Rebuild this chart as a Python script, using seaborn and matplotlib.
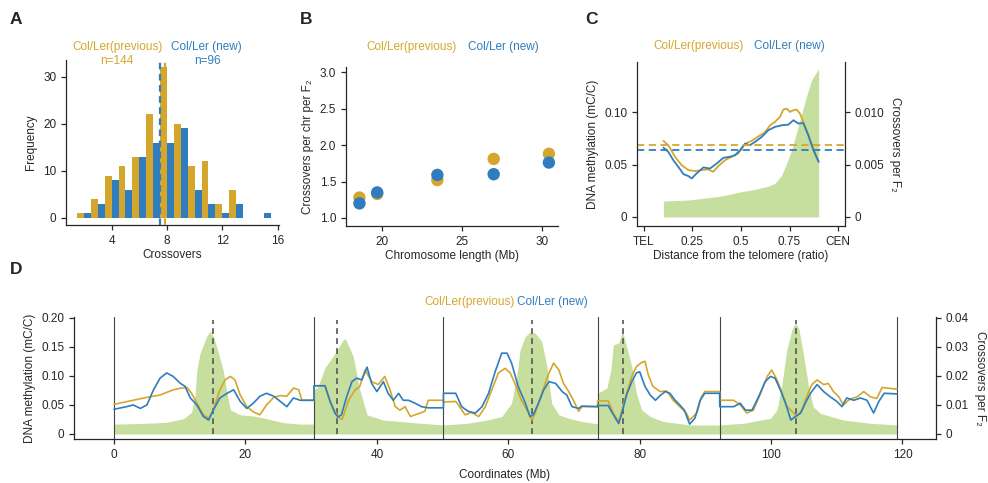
import numpy as np
import pandas as pd
import matplotlib
matplotlib.use("Agg")
import matplotlib.pyplot as plt
import seaborn as sns

sns.set_style("ticks")
plt.rcParams['font.family'] = ['Liberation Sans', 'DejaVu Sans']
plt.rcParams['font.size'] = 8.5
plt.rcParams['axes.linewidth'] = 0.9
plt.rcParams['xtick.major.size'] = 3.5
plt.rcParams['ytick.major.size'] = 3.5
plt.rcParams['xtick.major.width'] = 0.9
plt.rcParams['ytick.major.width'] = 0.9
plt.rcParams['xtick.labelsize'] = 8.5
plt.rcParams['ytick.labelsize'] = 8.5
plt.rcParams['axes.labelsize'] = 8.5

YEL = "#D4A72C"
BLU = "#2F7DBE"
GRN = "#C6DE9E"
LAB_PREV = "Col/Ler(previous)"
LAB_NEW = "Col/Ler (new)"

# ---------------- Panel A data ----------------
co_bins = list(range(2, 16))
prev_counts = [1, 4, 9, 11, 13, 22, 32, 20, 11, 12, 3, 6, 0, 0]
new_counts = [1, 3, 8, 6, 13, 16, 16, 19, 6, 3, 1, 3, 0, 1]

# ---------------- Panel B data ----------------
chr_len = [30.43, 19.70, 23.46, 18.59, 26.98]
prev_rate = [1.88, 1.33, 1.52, 1.28, 1.81]
new_rate = [1.76, 1.35, 1.59, 1.20, 1.60]

# ---------------- Panel C data ----------------
c_co_pos = [0.10, 0.229, 0.40, 0.50, 0.572, 0.641, 0.675, 0.71, 0.735, 0.761,
            0.787, 0.813, 0.839, 0.864, 0.90]
c_co = [0.00152, 0.00162, 0.0020, 0.00241, 0.00263, 0.00295, 0.00321, 0.0040,
        0.00511, 0.00638, 0.00813, 0.00987, 0.0116, 0.0131, 0.01416]
c_prev_pos = [0.10, 0.125, 0.16, 0.194, 0.229, 0.263, 0.297, 0.332, 0.357, 0.383,
              0.418, 0.452, 0.486, 0.521, 0.555, 0.59, 0.624, 0.65, 0.675, 0.701,
              0.718, 0.735, 0.753, 0.77, 0.787, 0.804, 0.821, 0.847, 0.873, 0.90]
c_prev = [0.0727, 0.0686, 0.0575, 0.0495, 0.0448, 0.0438, 0.0448, 0.0454, 0.0432,
          0.0486, 0.0543, 0.0575, 0.0606, 0.070, 0.0727, 0.077, 0.081, 0.0876,
          0.0908, 0.0956, 0.1026, 0.1035, 0.1003, 0.102, 0.1026, 0.0987, 0.0908,
          0.0781, 0.0654, 0.0527]
c_new_pos = [0.10, 0.125, 0.151, 0.177, 0.203, 0.229, 0.246, 0.271, 0.306, 0.34,
             0.375, 0.409, 0.443, 0.469, 0.495, 0.521, 0.546, 0.572, 0.607, 0.641,
             0.675, 0.71, 0.744, 0.77, 0.796, 0.821, 0.847, 0.873, 0.90]
c_new = [0.0663, 0.0622, 0.0543, 0.0479, 0.0410, 0.0390, 0.0368, 0.0416, 0.0473,
         0.0463, 0.0511, 0.0565, 0.0575, 0.0590, 0.0638, 0.070, 0.0686, 0.0717,
         0.0765, 0.0829, 0.086, 0.0876, 0.0882, 0.0924, 0.0892, 0.0898, 0.0781,
         0.0638, 0.0527]
c_prev_mean = 0.0686
c_new_mean = 0.0644
c_ticks = [0, 0.25, 0.5, 0.75, 1.0]
c_ticklabels = ["TEL", "0.25", "0.5", "0.75", "CEN"]

# ---------------- Panel D data (genome coordinates, Mb) ----------------
cen_pos = [15.0, 34.0, 63.6, 77.4, 103.8]

d_co_pos = [0, 4, 8, 10.6, 11.8, 12.3, 12.6, 13.1, 14.1, 14.6, 15.1, 15.6, 16.6, 17.2,
            17.7, 19.2, 21.2, 23.2, 25.8, 28.3, 30.43,
            30.43, 31.0, 32.1, 33.4, 34.9, 35.2, 36.4, 37.4, 38.5, 41.0, 46.1, 50.13,
            50.13, 53.9, 57.0, 59.0, 60.5, 61.3, 61.8, 62.6, 63.3, 64.1, 65.1, 65.9,
            66.6, 67.7, 69.2, 71.2, 73.59,
            73.59, 75.0, 75.6, 76.0, 76.8, 77.4, 78.0, 78.8, 79.5, 80.3, 81.6, 83.6,
            87.7, 92.18,
            92.18, 95.8, 99.9, 100.9, 101.6, 102.4, 103.2, 103.7, 104.2, 104.9, 105.7,
            106.4, 107.5, 111.0, 115.1, 119.16]
d_co = [0.0034, 0.0036, 0.0040, 0.0053, 0.0075, 0.013, 0.022, 0.0278, 0.0336, 0.0353,
        0.0336, 0.030, 0.022, 0.014, 0.0083, 0.0066, 0.0062, 0.0053, 0.0039, 0.0034, 0.0034,
        0.0152, 0.016, 0.0228, 0.027, 0.0324, 0.0328, 0.0267, 0.0152, 0.0066, 0.0048,
        0.0038, 0.0031,
        0.0031, 0.0037, 0.0049, 0.0060, 0.0106, 0.020, 0.029, 0.0336, 0.035, 0.0347,
        0.0318, 0.023, 0.0106, 0.0066, 0.0054, 0.0043, 0.0035,
        0.014, 0.0158, 0.022, 0.0307, 0.0313, 0.0353, 0.0301, 0.0232, 0.014, 0.0083,
        0.006, 0.0043, 0.0031, 0.0031,
        0.0031, 0.0037, 0.0054, 0.0083, 0.0163, 0.029, 0.036, 0.0382, 0.0364, 0.0278,
        0.0163, 0.0094, 0.0071, 0.0048, 0.0037, 0.0031]

d_prev_pos = [0, 1.9, 2.9, 5.0, 7.0, 9.0, 10.1, 11.1, 11.8, 12.6, 13.6, 14.4, 15.1, 16.1,
              16.9, 17.7, 18.4, 19.2, 20.2, 21.2, 22.2, 23.2, 24.3, 25.3, 26.3, 27.3,
              28.1, 28.6, 30.43,
              30.43, 32.1, 32.9, 33.6, 34.4, 34.7, 35.7, 36.7, 37.4, 38.2, 39.2, 40.2,
              41.2, 42.0, 42.8, 43.5, 44.3, 45.1, 45.8, 46.6, 47.3, 47.8, 50.13,
              50.13, 52.0, 52.4, 53.4, 54.4, 55.5, 56.5, 57.5, 58.5, 59.5, 60.3, 61.0,
              62.0, 63.1, 63.6, 64.1, 65.1, 66.2, 66.9, 67.7, 68.4, 69.2, 70.0, 70.7,
              71.2, 73.59,
              73.59, 75.2, 76.0, 76.8, 77.3, 78.0, 78.8, 79.5, 80.3, 80.8, 81.3, 82.0,
              83.1, 84.1, 85.1, 86.1, 87.1, 87.6, 88.7, 89.4, 89.9, 92.18,
              92.18, 94.3, 95.3, 96.3, 97.3, 98.3, 99.4, 100.1, 100.9, 101.6, 102.4,
              103.2, 103.9, 104.7, 105.4, 106.2, 107.0, 108.0, 108.7, 109.5, 110.3,
              111.0, 112.0, 113.1, 114.1, 115.1, 116.1, 116.9, 119.16]
d_prev = [0.051, 0.0557, 0.058, 0.063, 0.067, 0.0759, 0.0787, 0.080, 0.070, 0.053, 0.033,
          0.027, 0.041, 0.076, 0.093, 0.099, 0.093, 0.067, 0.047, 0.038, 0.033, 0.050,
          0.063, 0.066, 0.065, 0.079, 0.076, 0.058, 0.058,
          0.0828, 0.0828, 0.054, 0.039, 0.027, 0.025, 0.058, 0.076, 0.082, 0.110, 0.090,
          0.085, 0.099, 0.076, 0.047, 0.041, 0.047, 0.030, 0.033, 0.036, 0.039, 0.058,
          0.058,
          0.055, 0.056, 0.050, 0.033, 0.037, 0.030, 0.047, 0.076, 0.105, 0.113, 0.105,
          0.087, 0.058, 0.036, 0.024, 0.036, 0.070, 0.105, 0.122, 0.110, 0.087, 0.073,
          0.056, 0.039, 0.047, 0.047,
          0.057, 0.057, 0.036, 0.021, 0.041, 0.070, 0.099, 0.116, 0.123, 0.125, 0.102,
          0.082, 0.073, 0.074, 0.058, 0.047, 0.036, 0.024, 0.036, 0.064, 0.073, 0.073,
          0.058, 0.058, 0.050, 0.036, 0.041, 0.067, 0.099, 0.110, 0.093, 0.073, 0.047,
          0.039, 0.030, 0.041, 0.064, 0.085, 0.093, 0.085, 0.087, 0.073, 0.064, 0.050,
          0.060, 0.064, 0.073, 0.064, 0.061, 0.080, 0.077]

d_new_pos = [0, 1.9, 2.9, 4.0, 5.0, 6.0, 7.0, 8.0, 9.0, 10.1, 10.8, 11.6, 12.6, 13.6,
             14.4, 15.1, 16.1, 17.2, 18.2, 19.2, 20.2, 21.2, 22.2, 23.2, 24.3, 25.3,
             26.3, 27.3, 28.3, 30.43,
             30.43, 32.1, 32.9, 33.6, 34.1, 34.6, 35.4, 36.2, 36.9, 37.7, 38.5, 39.2,
             40.0, 41.0, 41.7, 42.5, 43.3, 44.0, 44.8, 45.8, 46.8, 47.8, 50.13,
             50.13, 52.0, 52.9, 53.9, 55.0, 56.0, 57.0, 58.0, 59.0, 59.8, 60.5, 61.5,
             62.6, 63.3, 63.8, 64.6, 65.4, 66.2, 67.2, 68.2, 68.9, 69.7, 70.7, 71.2, 73.59,
             73.59, 75.2, 76.0, 76.8, 77.3, 78.0, 78.8, 79.5, 80.0, 80.8, 81.6, 82.4,
             83.1, 83.9, 84.6, 85.4, 86.1, 86.8, 87.6, 88.4, 89.2, 89.9, 92.18,
             92.18, 94.3, 95.3, 96.1, 97.1, 98.1, 99.1, 99.9, 100.6, 101.4, 102.2, 103.0,
             103.7, 104.5, 105.2, 106.0, 107.0, 108.0, 109.0, 110.0, 110.8, 111.5, 112.6,
             113.6, 114.6, 115.6, 116.4, 117.2, 119.16]
d_new = [0.0425, 0.047, 0.050, 0.044, 0.050, 0.076, 0.096, 0.105, 0.099, 0.087, 0.082,
         0.062, 0.050, 0.030, 0.024, 0.041, 0.062, 0.070, 0.076, 0.056, 0.044, 0.053,
         0.065, 0.070, 0.065, 0.056, 0.047, 0.062, 0.058, 0.058,
         0.083, 0.083, 0.056, 0.036, 0.029, 0.033, 0.064, 0.090, 0.096, 0.093, 0.115,
         0.087, 0.073, 0.090, 0.070, 0.058, 0.070, 0.058, 0.058, 0.053, 0.047, 0.045, 0.045,
         0.070, 0.070, 0.047, 0.039, 0.036, 0.047, 0.070, 0.107, 0.139, 0.139, 0.122,
         0.082, 0.053, 0.030, 0.033, 0.053, 0.076, 0.090, 0.087, 0.073, 0.067, 0.047,
         0.044, 0.048, 0.047,
         0.049, 0.049, 0.033, 0.018, 0.036, 0.067, 0.090, 0.105, 0.107, 0.082, 0.067,
         0.058, 0.066, 0.073, 0.070, 0.058, 0.050, 0.041, 0.017, 0.027, 0.058, 0.070, 0.070,
         0.047, 0.047, 0.053, 0.041, 0.041, 0.064, 0.090, 0.099, 0.096, 0.076, 0.053,
         0.024, 0.030, 0.036, 0.053, 0.070, 0.085, 0.073, 0.064, 0.056, 0.047, 0.062,
         0.058, 0.062, 0.058, 0.036, 0.056, 0.070, 0.069]

# ---------------- Figure ----------------
W, H = 988, 483
fig = plt.figure(figsize=(W / 100, H / 100), dpi=100)

def ax_px(l, t, r, b):
    return fig.add_axes([l / W, 1 - b / H, (r - l) / W, (b - t) / H])

def fx(x):
    return x / W

def fy(y):
    return 1 - y / H

palette = {LAB_PREV: YEL, LAB_NEW: BLU}

# ---- Panel A ----
axA = ax_px(66, 60, 279, 225)
dfA = pd.DataFrame({
    "crossovers": co_bins * 2,
    "count": prev_counts + new_counts,
    "set": [LAB_PREV] * len(co_bins) + [LAB_NEW] * len(co_bins),
})
sns.histplot(data=dfA, x="crossovers", weights="count", hue="set",
             hue_order=[LAB_PREV, LAB_NEW], palette=palette, discrete=True,
             multiple="dodge", shrink=1, alpha=1, linewidth=0, legend=False, ax=axA)
mean_prev = np.average(co_bins, weights=prev_counts)
mean_new = np.average(co_bins, weights=new_counts)
axA.axvline(mean_new, color=BLU, lw=1.6, dashes=(3, 2), zorder=3)
axA.axvline(mean_prev, color=YEL, lw=1.6, dashes=(3, 2), zorder=3)
axA.set_xlim(0.7, 16.1)
axA.set_ylim(-1.5, 33.5)
axA.set_xticks([4, 8, 12, 16])
axA.set_yticks([0, 10, 20, 30])
axA.set_xlabel("Crossovers", labelpad=2)
axA.set_ylabel("Frequency", labelpad=4)
sns.despine(ax=axA)
fig.text(fx(118), fy(47), LAB_PREV, color=YEL, ha="center", va="center", fontsize=8.5)
fig.text(fx(117), fy(61), "n=144", color=YEL, ha="center", va="center", fontsize=8.5)
fig.text(fx(206), fy(47), LAB_NEW, color=BLU, ha="center", va="center", fontsize=8.5)
fig.text(fx(207), fy(61), "n=96", color=BLU, ha="center", va="center", fontsize=8.5)

# ---- Panel B ----
axB = ax_px(346, 67, 558, 226)
dfB = pd.DataFrame({
    "length": chr_len * 2,
    "rate": prev_rate + new_rate,
    "set": [LAB_PREV] * len(chr_len) + [LAB_NEW] * len(chr_len),
})
sns.scatterplot(data=dfB, x="length", y="rate", hue="set",
                hue_order=[LAB_PREV, LAB_NEW], palette=palette, s=80,
                linewidth=0, legend=False, ax=axB)
axB.set_xlim(17.75, 31.0)
axB.set_ylim(0.89, 3.07)
axB.set_xticks([20, 25, 30])
axB.set_yticks([1.0, 1.5, 2.0, 2.5, 3.0])
axB.set_yticklabels(["1.0", "1.5", "2.0", "2.5", "3.0"])
axB.set_xlabel("Chromosome length (Mb)", labelpad=2)
axB.set_ylabel("Crossovers per chr per F\u2082", labelpad=4)
sns.despine(ax=axB)
fig.text(fx(412), fy(47), LAB_PREV, color=YEL, ha="center", va="center", fontsize=8.5)
fig.text(fx(503), fy(47), LAB_NEW, color=BLU, ha="center", va="center", fontsize=8.5)

# ---- Panel C ----
axC = ax_px(637, 62, 845, 226)
axC2 = axC.twinx()
axC2.fill_between(c_co_pos, 0, c_co, color=GRN, linewidth=0)
axC2.set_ylim(-0.00086, 0.0148)
axC2.set_yticks([0, 0.005, 0.010])
axC2.set_yticklabels(["0", "0.005", "0.010"])
axC2.set_ylabel("Crossovers per F\u2082", rotation=270, labelpad=12)
dfC = pd.DataFrame({
    "pos": c_prev_pos + c_new_pos,
    "meth": c_prev + c_new,
    "set": [LAB_PREV] * len(c_prev_pos) + [LAB_NEW] * len(c_new_pos),
})
sns.lineplot(data=dfC, x="pos", y="meth", hue="set", hue_order=[LAB_PREV, LAB_NEW],
             palette=palette, lw=1.3, estimator=None, sort=False, legend=False, ax=axC)
axC.axhline(c_prev_mean, color=YEL, lw=1.3, dashes=(4, 2.5))
axC.axhline(c_new_mean, color=BLU, lw=1.3, dashes=(4, 2.5))
axC.set_zorder(axC2.get_zorder() + 1)
axC.patch.set_visible(False)
axC.set_xlim(-0.036, 1.036)
axC.set_ylim(-0.0086, 0.148)
axC.set_yticks([0, 0.05, 0.10])
axC.set_yticklabels(["0", "0.05", "0.10"])
axC.set_xticks(c_ticks)
axC.set_xticklabels(c_ticklabels)
axC.set_xlabel("Distance from the telomere (ratio)", labelpad=2)
axC.set_ylabel("DNA methylation (mC/C)", labelpad=4)
for a in (axC, axC2):
    a.spines["top"].set_visible(False)
axC.spines["right"].set_visible(False)
axC2.spines["left"].set_visible(False)
axC2.spines["bottom"].set_visible(False)
fig.text(fx(699), fy(46), LAB_PREV, color=YEL, ha="center", va="center", fontsize=8.5)
fig.text(fx(789), fy(46), LAB_NEW, color=BLU, ha="center", va="center", fontsize=8.5)

# ---- Panel D ----
axD = ax_px(74, 317, 936, 439)
axD2 = axD.twinx()
axD2.fill_between(d_co_pos, 0, d_co, color=GRN, linewidth=0)
axD2.set_ylim(-0.00172, 0.04024)
axD2.set_yticks([0, 0.01, 0.02, 0.03, 0.04])
axD2.set_yticklabels(["0", "0.01", "0.02", "0.03", "0.04"])
axD2.set_ylabel("Crossovers per F\u2082", rotation=270, labelpad=12)
bounds = np.concatenate([[0], np.cumsum(chr_len)])
for b in bounds:
    axD.axvline(b, color="#444444", lw=0.8, zorder=1)
axD.vlines(cen_pos, 0, 0.196, colors="#555555", lw=1.2, linestyles=(0, (3.5, 2.5)), zorder=2)
dfD = pd.DataFrame({
    "pos": d_prev_pos + d_new_pos,
    "meth": d_prev + d_new,
    "set": [LAB_PREV] * len(d_prev_pos) + [LAB_NEW] * len(d_new_pos),
})
sns.lineplot(data=dfD, x="pos", y="meth", hue="set", hue_order=[LAB_PREV, LAB_NEW],
             palette=palette, lw=1.2, estimator=None, sort=False, legend=False, ax=axD,
             zorder=3)
axD.set_zorder(axD2.get_zorder() + 1)
axD.patch.set_visible(False)
axD.set_xlim(-6.1, 125.1)
axD.set_ylim(-0.0086, 0.2012)
axD.set_yticks([0, 0.05, 0.10, 0.15, 0.20])
axD.set_yticklabels(["0", "0.05", "0.10", "0.15", "0.20"])
axD.set_xticks([0, 20, 40, 60, 80, 100, 120])
axD.set_xlabel("Coordinates (Mb)", labelpad=6)
axD.set_ylabel("DNA methylation (mC/C)", labelpad=4)
for a in (axD, axD2):
    a.spines["top"].set_visible(False)
axD.spines["right"].set_visible(False)
axD2.spines["left"].set_visible(False)
axD2.spines["bottom"].set_visible(False)
fig.text(fx(470), fy(302), LAB_PREV, color=YEL, ha="center", va="center", fontsize=8.5)
fig.text(fx(552), fy(302), LAB_NEW, color=BLU, ha="center", va="center", fontsize=8.5)

# ---- Panel letters ----
for letter, (x, y) in {"A": (10, 19), "B": (300, 19), "C": (585, 19), "D": (10, 269)}.items():
    fig.text(fx(x), fy(y), letter, fontsize=12.5, fontweight="bold", ha="left", va="center")

fig.savefig("out.png", dpi=100)
